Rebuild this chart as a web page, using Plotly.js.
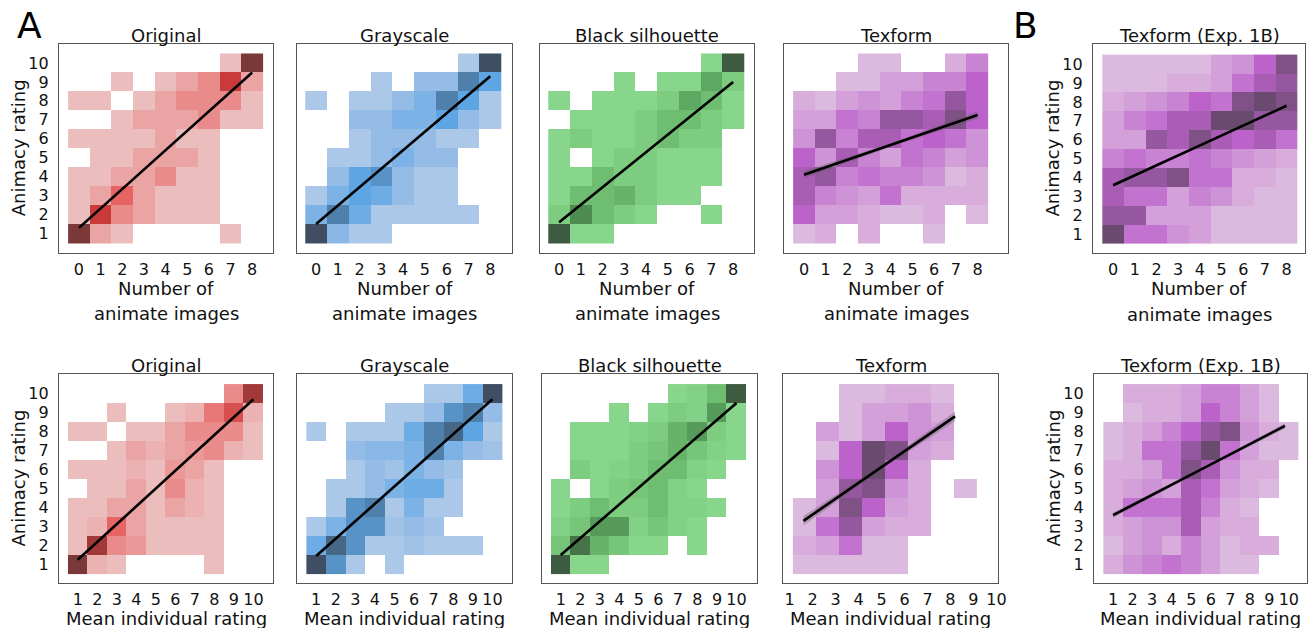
<!DOCTYPE html>
<html><head><meta charset="utf-8">
<script src="https://cdn.plot.ly/plotly-3.0.1.min.js"></script>
<style>html,body{margin:0;padding:0;background:#fff}#chart{width:1312px;height:628px}</style>
</head><body><div id="chart"></div>
<script>
const _ = null;
// ---- categories / tick labels ----
const numAnimate = [0,1,2,3,4,5,6,7,8];
const meanRating = [1,2,3,4,5,6,7,8,9,10];
const meanRatingTexformBins = [1.64,2.64,3.64,4.64,5.64,6.64,7.64,8.64];
const animacyRows = [10,9,8,7,6,5,4,3,2,1];
const animacyTicks = [1,2,3,4,5,6,7,8,9,10];
const panelTitles = ["Original","Grayscale","Black silhouette","Texform","Texform (Exp. 1B)",
                     "Original","Grayscale","Black silhouette","Texform","Texform (Exp. 1B)"];
const xTitleRow1 = ["Number of","animate images"];
const xTitleRow2 = "Mean individual rating";
const yTitle = "Animacy rating";

// ---- density (relative count level) per cell; rows = animacy 10 -> 1 ----
const originalByNumber = [
 [_,_,_,_,_,_,_,1,6],
 [_,_,1,_,1,2,3,5,2],
 [1,1,_,1,2,3,3,3,1],
 [_,_,1,2,2,2,3,1,1],
 [1,1,1,1,2,1,1,_,_],
 [_,1,1,2,2,2,1,_,_],
 [1,1,2,2,3,1,1,_,_],
 [1,2,4,2,1,1,1,_,_],
 [1,5,3,2,1,1,1,_,_],
 [6,2,1,_,_,_,_,1,_]];
const grayscaleByNumber = [
 [_,_,_,_,_,_,_,1,6],
 [_,_,_,1,_,2,2,5,4],
 [1,_,1,1,2,3,5,4,1],
 [_,_,2,2,3,3,4,2,1],
 [_,_,1,2,2,2,1,1,_],
 [_,1,1,2,3,2,2,_,_],
 [_,2,4,4.5,2,1,1,_,_],
 [1,3,4,3.5,2,1,1,_,_],
 [3,5,3.5,1,1,1,1,1,_],
 [6,2.5,1,1,_,_,_,_,_]];
const silhouetteByNumber = [
 [_,_,_,_,_,_,_,1,6],
 [_,_,_,1,_,1,1,4,2],
 [1,_,1,1,1,2,4,3,1],
 [_,1,1,1,2,3,3,2,1],
 [1,2,1,1,2,3,2,2,_],
 [1,_,1,2,2,1,1,1,_],
 [1,1,3,2,2,1,1,1,_],
 [1,3,3,3.5,2,1,1,_,_],
 [2,5,3,2,1,_,_,1,_],
 [6,1,1,_,_,_,_,_,_]];
const texformByNumber = [
 [_,_,_,1,1,_,_,1.5,3],
 [_,_,1,1,2,2,3,3,4],
 [1.5,1,2,2.5,2,3,3.5,5,4],
 [2,2,3.5,3,5,5,4.5,5.5,4],
 [2.5,5,3,4.5,4.5,3.5,4,3.5,2.5],
 [4,2.5,4.5,3,2,3.5,3,2,2.5],
 [4.5,5,3,3.5,3,3,2.5,1,1.5],
 [4.5,3,2.5,2,3.5,1.5,1.5,1.5,1.5],
 [4,2,2,1.5,1,1,1.5,_,1],
 [1,1.5,_,1.5,_,_,1,_,_]];
const texform1BByNumber = [
 [1,1,1,1,1,2,2.5,4,5.5],
 [1,1,1,1.5,1.5,2,3.5,4.5,5],
 [1.5,2,2.5,3,4,3.5,5.5,6,5.5],
 [2,3,3.5,4.5,4.5,6,6,5,5],
 [2,2,5,4.5,5.5,4.5,4,4.5,3.5],
 [3,3.5,3,3,3.5,3,2.5,2,1.5],
 [4.5,5,5,5.5,3.5,3.5,1.5,1.5,1],
 [4.5,3.5,3.5,2,3,2.5,1.5,1,1],
 [5,5,2,2,2,1,1,1,1],
 [6,3.5,3.5,2.5,2,1,1,1,1]];
const originalByMean = [
 [_,_,_,_,_,_,_,_,3,5.5],
 [_,_,1,_,_,1,1.5,3.5,4.5,1.5],
 [1,1,_,1,1,2,3,3,3,1],
 [_,_,1,2,1.5,2,2.5,3,1.5,1],
 [1,1,1,1.5,1,2.5,2,1,_,_],
 [_,1,1,2,1,3,1.5,1,_,_],
 [1,1,2,2,1,2,1.5,1,_,_],
 [1,1.5,4,2,1,1,1,1,_,_],
 [1,5.5,3,2.5,1,1,1,1,_,_],
 [6,1.5,1,_,_,_,_,1,_,_]];
const grayscaleByMean = [
 [_,_,_,_,_,_,1,1,3.5,6],
 [_,_,_,_,1,1,2,4.5,5,2],
 [1,_,1,1,1,3.5,5,5.5,4,1],
 [_,_,2,2.5,2.5,3,5,3,2,1.5],
 [_,_,1,2,1.5,3,2,1.5,_,_],
 [_,1,1,2,3,3.5,3.5,1,_,_],
 [_,1,4.5,5,1,3,1,1,_,_],
 [1,3,4.5,4.5,1.5,2,1.5,_,_,_],
 [3.5,5.5,4.5,1,1,1.5,1,1,1,_],
 [6,4.5,1,_,1,_,_,_,_,_]];
const silhouetteByMean = [
 [_,_,_,_,_,_,1,1.5,3,6],
 [_,_,_,1,_,1,2,1.5,4.5,1],
 [_,1,1,1,1.5,2,3.5,4.5,2,1],
 [_,1,1,1,2,2.5,3.5,2.5,1.5,1],
 [_,2,1,1.5,2,3,3,1.5,1,_],
 [1,_,1,2,2.5,3,1.5,1,_,_],
 [1,2,3,2,2,3,1.5,1.5,1,_],
 [1.5,2.5,4.5,4.5,1.5,2.5,1.5,1,_,_],
 [2.5,5.5,3.5,2.5,1,1,_,1,_,_],
 [6,1,1,_,_,_,_,_,_,_]];
const texformByMean = [
 [_,_,1,1,1.5,1.5,1,_],
 [_,_,1,2,2,2.5,1.5,_],
 [_,2,1,2,4,2.5,2,_],
 [_,1,4,6,5.5,2,1.5,_],
 [_,2.5,4,6,4,1.5,_,_],
 [_,2,5,5.5,2.5,1.5,_,1],
 [1,2,5.5,4,2,1.5,_,_],
 [1,3.5,5,2,1.5,1.5,_,_],
 [1.5,2,3.5,1,1,_,_,_],
 [1,1,1,1,1,_,_,_]];
const texform1BByMean = [
 [_,1.5,1.5,1.5,2,3,3,2,1,_],
 [_,1,1.5,1.5,2,4,3,2,1,_],
 [1,1.5,2,3,4,5,5.5,2.5,1.5,1],
 [1,1.5,3.5,3.5,5,6,3.5,2,1,1],
 [1.5,1.5,2,3.5,5.5,4.5,2.5,1.5,1.5,_],
 [1.5,2,2.5,2,4.5,3.5,2,1.5,1,_],
 [1.5,3.5,3.5,3.5,4.5,3,1.5,1,_,_],
 [1.5,2,2.5,2.5,4.5,2,1.5,1.5,_,_],
 [1,2,2.5,1.5,3,2,1,1.5,1.5,_],
 [1.5,2.5,3,3.5,3,2,1,1,_,_]];

// ---- regression fits (start/end of fitted line, CI half-width) ----
const fitX0 = [0,0,0,0,0,1,1,1,1.6,1];
const fitX1 = [8,8,8,8,8,10,10,10,8.2,9.8];
const fitY0 = [1.3,1.5,1.6,4.1,3.6,1.25,1.45,1.5,3.3,3.6];
const fitY1 = [9.5,9.3,9.0,7.25,7.8,9.7,9.7,9.5,8.8,8.3];
const ciHalf = [0.08,0.08,0.08,0.2,0.1,0.08,0.08,0.08,0.25,0.14];

// ---- styling ----
const FONT = "DejaVu Sans, Verdana, sans-serif";
const scales = {
  red:   [[0,'#ecbdbd'],[0.2,'#eba4a4'],[0.4,'#e98b8b'],[0.6,'#e66464'],[0.8,'#c93a3a'],[1,'#7a3838']],
  blue:  [[0,'#abc8e8'],[0.2,'#95bce6'],[0.4,'#7db2e6'],[0.6,'#5ea5e3'],[0.8,'#4f80ab'],[1,'#3f4e62']],
  green: [[0,'#88d68b'],[0.2,'#7dcc80'],[0.4,'#6ebd71'],[0.6,'#5ea961'],[0.8,'#4d8c50'],[1,'#3e5a40']],
  purple:[[0,'#dcb9df'],[0.2,'#d3a0d9'],[0.4,'#c883d2'],[0.6,'#bc63cb'],[0.8,'#95579f'],[1,'#6a4a6e']]
};
const panels = [
  {z: originalByNumber,   x: numAnimate, cs:'red',    box:[59,44,273,252.5],   xr:[-0.92,8.96], yr:[0,11], ylab:true,  row:1},
  {z: grayscaleByNumber,  x: numAnimate, cs:'blue',   box:[297,44,512,252.5],  xr:[-0.88,9.0],  yr:[0,11], ylab:false, row:1},
  {z: silhouetteByNumber, x: numAnimate, cs:'green',  box:[540,44,754,252.5],  xr:[-0.88,8.96], yr:[0,11], ylab:false, row:1},
  {z: texformByNumber,    x: numAnimate, cs:'purple', box:[784,44,1008,252.5], xr:[-0.92,9.4],  yr:[0,11], ylab:false, row:1},
  {z: texform1BByNumber,  x: numAnimate, cs:'purple', box:[1093,44,1305,253],  xr:[-0.93,8.85], yr:[0.02,11.06], ylab:true, row:1},
  {z: originalByMean,     x: meanRating, cs:'red',    box:[59,374,273,583],    xr:[0.04,11.0],  yr:[0.03,11.03], ylab:true,  row:2},
  {z: grayscaleByMean,    x: meanRating, cs:'blue',   box:[297,374,512,583],   xr:[0.02,11.0],  yr:[0.03,11.03], ylab:false, row:2},
  {z: silhouetteByMean,   x: meanRating, cs:'green',  box:[542,374,757,583],   xr:[0.04,11.05], yr:[0.03,11.03], ylab:false, row:2},
  {z: texformByMean,      x: meanRatingTexformBins, cs:'purple', box:[783,374,998,583], xr:[0.71,10.07], yr:[0.03,11.03], ylab:false, row:2},
  {z: texform1BByMean,    x: meanRating, cs:'purple', box:[1094,374,1307,583], xr:[0.02,10.93], yr:[0.03,11.03], ylab:true,  row:2}
];

const W = 1312, H = 628;
const traces = [];
const layout = {
  width: W, height: H, margin:{l:0,r:0,t:0,b:0},
  paper_bgcolor:'#fff', plot_bgcolor:'#fff', showlegend:false,
  font:{family:FONT, color:'#111'}, annotations:[]
};

panels.forEach((p, i) => {
  const n = i + 1;
  const xa = n === 1 ? 'x' : 'x' + n, ya = n === 1 ? 'y' : 'y' + n;
  const [l, t, r, b] = p.box;
  traces.push({type:'heatmap', x:p.x, y:animacyRows, z:p.z, xaxis:xa, yaxis:ya,
    colorscale:scales[p.cs], zmin:1, zmax:6, showscale:false, hoverinfo:'skip'});
  // CI band + fitted line
  const xm = (fitX0[i] + fitX1[i]) / 2, ym = (fitY0[i] + fitY1[i]) / 2;
  const c = ciHalf[i];
  traces.push({type:'scatter', mode:'lines', xaxis:xa, yaxis:ya, hoverinfo:'skip',
    x:[fitX0[i], xm, fitX1[i], fitX1[i], xm, fitX0[i]],
    y:[fitY0[i]+c, ym+c*0.45, fitY1[i]+c, fitY1[i]-c, ym-c*0.45, fitY0[i]-c],
    fill:'toself', fillcolor:'rgba(90,90,90,0.35)', line:{width:0}});
  traces.push({type:'scatter', mode:'lines', xaxis:xa, yaxis:ya, hoverinfo:'skip',
    x:[fitX0[i], fitX1[i]], y:[fitY0[i], fitY1[i]], line:{color:'#000', width:2.6}});

  const common = {showgrid:false, zeroline:false, showline:true, mirror:true,
    linecolor:'#555', linewidth:1.2, fixedrange:true, ticks:'outside',
    tickcolor:'rgba(0,0,0,0)', tickfont:{size:16, family:FONT, color:'#111'}};
  layout[n === 1 ? 'xaxis' : 'xaxis' + n] = Object.assign({}, common, {
    anchor: ya, domain:[l / W, r / W], range:p.xr,
    tickvals: p.row === 1 ? numAnimate : meanRating, ticklen:2});
  layout[n === 1 ? 'yaxis' : 'yaxis' + n] = Object.assign({}, common, {
    anchor: xa, domain:[1 - b / H, 1 - t / H], range:p.yr,
    tickvals: animacyTicks, showticklabels:p.ylab, ticklen:6});

  const cx = (l + r) / 2 / W;
  layout.annotations.push({text:panelTitles[i], xref:'paper', yref:'paper',
    x:cx, y:1 - (t - 9) / H, xanchor:'center', yanchor:'middle', showarrow:false,
    font:{size:18, family:FONT, color:'#111'}});
  if (p.row === 1) {
    layout.annotations.push({text:xTitleRow1[0], xref:'paper', yref:'paper', x:cx, y:1 - (b + 36) / H,
      xanchor:'center', yanchor:'middle', showarrow:false, font:{size:18, family:FONT, color:'#111'}});
    layout.annotations.push({text:xTitleRow1[1], xref:'paper', yref:'paper', x:cx, y:1 - (b + 61) / H,
      xanchor:'center', yanchor:'middle', showarrow:false, font:{size:18, family:FONT, color:'#111'}});
  } else {
    layout.annotations.push({text:xTitleRow2, xref:'paper', yref:'paper', x:cx, y:1 - (b + 35) / H,
      xanchor:'center', yanchor:'middle', showarrow:false, font:{size:18, family:FONT, color:'#111'}});
  }
  if (p.ylab) {
    layout.annotations.push({text:yTitle, xref:'paper', yref:'paper', x:(l - 41) / W, y:1 - (t + b) / 2 / H,
      xanchor:'center', yanchor:'middle', textangle:-90, showarrow:false, font:{size:18, family:FONT, color:'#111'}});
  }
});
layout.annotations.push({text:'A', xref:'paper', yref:'paper', x:29.5 / W, y:1 - 25 / H,
  xanchor:'center', yanchor:'middle', showarrow:false, font:{size:36, family:FONT, color:'#000'}});
layout.annotations.push({text:'B', xref:'paper', yref:'paper', x:1025.5 / W, y:1 - 25 / H,
  xanchor:'center', yanchor:'middle', showarrow:false, font:{size:36, family:FONT, color:'#000'}});

Plotly.newPlot('chart', traces, layout, {staticPlot:true, displayModeBar:false});
</script></body></html>
